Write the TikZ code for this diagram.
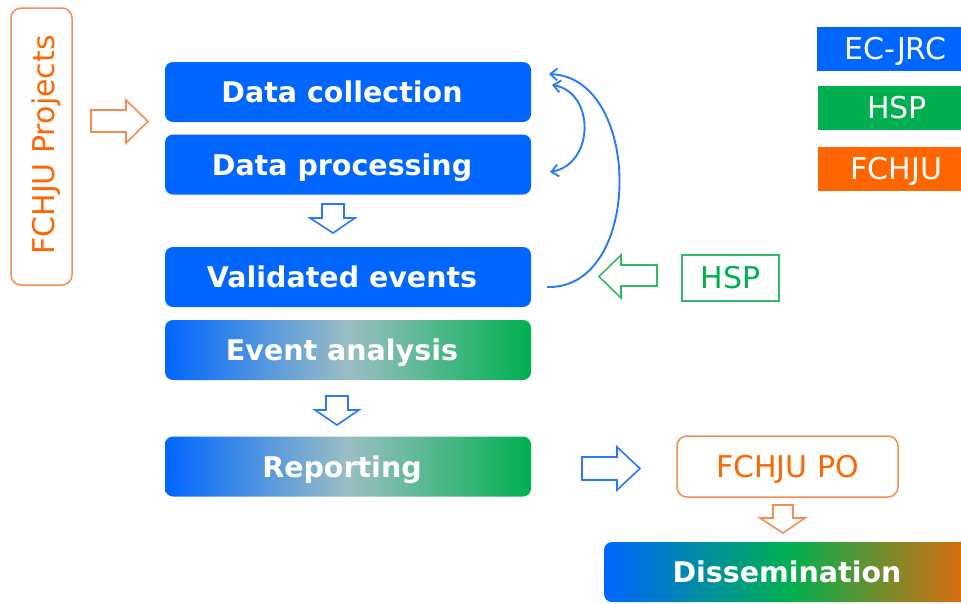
\documentclass[tikz,border=0pt]{standalone}
\usepackage{fontspec}
\setmainfont{DejaVu Sans}
\usetikzlibrary{arrows.meta}
\definecolor{cblue}{RGB}{0,102,255}
\definecolor{cgreen}{RGB}{0,176,80}
\definecolor{corange}{RGB}{255,102,0}
\definecolor{corline}{RGB}{245,140,80}
\definecolor{cgrline}{RGB}{50,185,100}
\definecolor{cblline}{RGB}{40,120,255}
\definecolor{cmid}{RGB}{155,190,195}
\definecolor{cdorange}{RGB}{230,105,10}
\tikzset{
  bluebox/.style={fill=cblue, rounded corners=8pt, minimum width=366pt, minimum height=60pt, inner sep=0pt},
  gradbox/.style={left color=cblue, right color=cgreen, middle color=cmid, rounded corners=8pt, minimum width=366pt, minimum height=60pt, inner sep=0pt},
  boldtxt/.style={text=white, font=\fontsize{28.5}{32}\selectfont\bfseries, text height=21pt, text depth=0pt, inner sep=0pt},
  normtxt/.style={font=\fontsize{30}{34}\selectfont},
  legtxt/.style={text=white, font=\fontsize{30}{34}\selectfont, text height=21pt, text depth=0pt, inner sep=0pt},
  legbox/.style={minimum width=144pt, minimum height=44pt, inner sep=0pt},
  blockarr/.style={line width=1.6pt, line join=miter},
  tipb/.style={},
  conn/.style={draw=cblline, line width=1.9pt, -{Straight Barb[length=7pt,width=12pt,line width=1.8pt]}},
}
\begin{document}
\begin{tikzpicture}[x=1pt,y=-1pt]
\useasboundingbox (0,0) rectangle (961,603);
\begin{scope}
\clip (0,0) rectangle (961,603);
% left project box
\node[draw=corline, line width=1.5pt, rounded corners=10pt, rotate=90, minimum width=277pt, minimum height=61pt, inner sep=0pt] (proj) at (41.5,146.5) {};
\node[rotate=90, text=corange, normtxt, text height=21pt, text depth=0pt, inner sep=0pt] (projt) at (44,145) {FCHJU Projects};
% orange right block arrow
\draw[blockarr, draw=corline] (91,110) -- (126,110) -- (126,100) -- (148,121.5) -- (126,143) -- (126,132) -- (91,132) -- cycle;
% main boxes
\node[bluebox] (dc) at (348,92) {};
\node[boldtxt] (dct) at (342,92) {Data collection};
\node[bluebox] (dp) at (348,164.5) {};
\node[boldtxt] (dpt) at (342,164.5) {Data processing};
\draw[blockarr, draw=cblline] (322,204) -- (344,204) -- (344,218) -- (355,218) -- (333,233) -- (310,218) -- (322,218) -- cycle;
\node[bluebox] (ve) at (348,277) {};
\node[boldtxt] (vet) at (342,277) {Validated events};
\node[gradbox] (ea) at (348,350) {};
\node[boldtxt] (eat) at (342,350) {Event analysis};
\draw[blockarr, draw=cblline] (326,396) -- (348,396) -- (348,410) -- (359,410) -- (337,425) -- (315,410) -- (326,410) -- cycle;
\node[gradbox] (rep) at (348,466.5) {};
\node[boldtxt] (rept) at (342,466.5) {Reporting};
% blue right block arrow
\draw[blockarr, draw=cblline] (582,457) -- (617,457) -- (617,447) -- (640,468.5) -- (617,490) -- (617,480) -- (582,480) -- cycle;
% FCHJU PO
\node[draw=corline, line width=1.5pt, rounded corners=10pt, minimum width=221pt, minimum height=61pt, inner sep=0pt] (po) at (787.5,466.5) {};
\node[legtxt, text=corange] (pot) at (787.5,466.5) {FCHJU PO};
\draw[blockarr, draw=corline] (773,505) -- (793,505) -- (793,518) -- (805,518) -- (783,533) -- (760,518) -- (773,518) -- cycle;
% Dissemination
\node[left color=cblue, right color=cdorange, middle color=cgreen, rounded corners=8pt, minimum width=370pt, minimum height=60pt, inner sep=0pt] (diss) at (789,572) {};
\node[boldtxt] (disst) at (787,572) {Dissemination};
% HSP
\node[draw=cgrline, line width=1.5pt, minimum width=97pt, minimum height=46pt, inner sep=0pt] (hsp) at (730.5,278) {};
\node[legtxt, text=cgreen] (hspt) at (730.5,278) {HSP};
\draw[blockarr, draw=cgrline] (657,265) -- (621,265) -- (621,255) -- (599,276.5) -- (621,298) -- (621,286) -- (657,286) -- cycle;
% legend
\node[legbox, fill=cblue] (ljrc) at (889,49) {};
\node[legtxt] (ljrct) at (895.5,49) {EC-JRC};
\node[legbox, fill=cgreen] (lhsp) at (889.5,108) {};
\node[legtxt] (lhspt) at (897,108) {HSP};
\node[legbox, fill=corange] (lfch) at (889.5,168.5) {};
\node[legtxt] (lfcht) at (896.5,168.5) {FCHJU};
% curved connectors
\coordinate (vout) at (547,287);
\coordinate (dcin) at (549,74);
\coordinate (dcs) at (552,85);
\coordinate (dps) at (550,172);
\draw[conn] (vout) .. controls (643,290) and (643,78) .. (dcin);
\draw[conn, {Straight Barb[length=7pt,width=12pt,line width=1.8pt]}-{Straight Barb[length=7pt,width=12pt,line width=1.8pt]}] (dcs) .. controls (595,92) and (595,164) .. (dps);
\end{scope}
\end{tikzpicture}
\end{document}
